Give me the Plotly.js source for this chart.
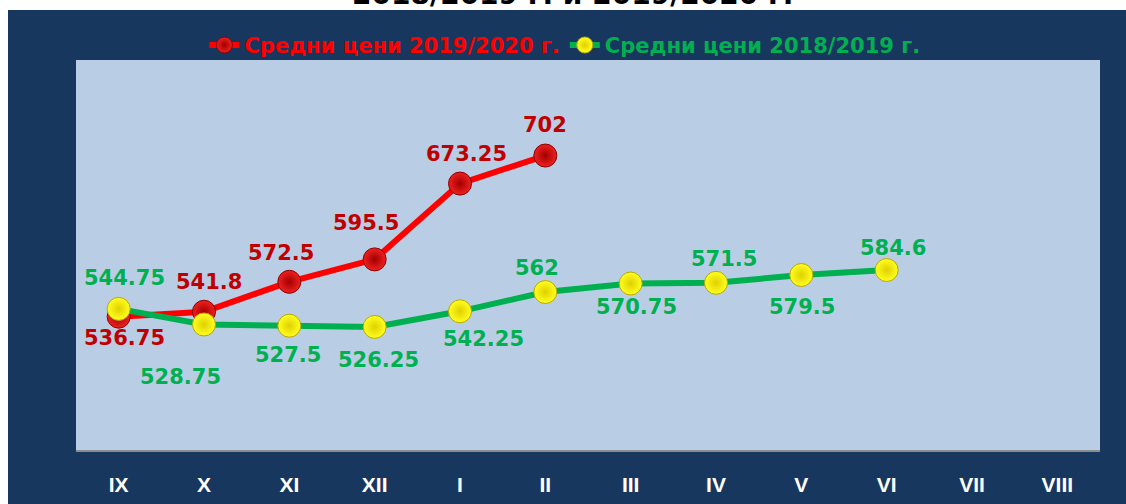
<!DOCTYPE html>
<html>
<head>
<meta charset="utf-8">
<script src="https://cdn.plot.ly/plotly-3.0.1.min.js"></script>
<style>html,body{margin:0;padding:0;background:#fff;}#chart{width:1126px;height:504px;}</style>
</head>
<body>
<div id="chart"></div>
<script>
const months = ["IX","X","XI","XII","I","II","III","IV","V","VI","VII","VIII"];
const prices2019_2020 = [536.75, 541.8, 572.5, 595.5, 673.25, 702];
const prices2018_2019 = [544.75, 528.75, 527.5, 526.25, 542.25, 562, 570.75, 571.5, 579.5, 584.6];
const name2019_2020 = "Средни цени 2019/2020 г.";
const name2018_2019 = "Средни цени 2018/2019 г.";
const titleText = "2018/2019 г. и 2019/2020 г.";

// label offsets (screen pixels: dx, dy with dy>0 = below the point)
const redShift = [[6,21],[5,-30],[-8,-29],[-9,-36],[6,-30],[0,-31]];
const greenShift = [[6,-31],[-24,53],[-1,29],[4,33],[23,28],[-8,-24],[6,23],[8,-24],[1,32],[6,-22]];

const NAVY = "#17375E";
const labelFont = {family: "DejaVu Sans, Verdana, sans-serif", size: 21, weight: "bold"};

const annotations = [];
prices2019_2020.forEach((v, i) => {
  annotations.push({x: months[i], y: v, xref: "x", yref: "y", text: "<b>" + v + "</b>", showarrow: false,
    xshift: redShift[i][0], yshift: -redShift[i][1], font: Object.assign({}, labelFont, {color: "#C00000"})});
});
prices2018_2019.forEach((v, i) => {
  annotations.push({x: months[i], y: v, xref: "x", yref: "y", text: "<b>" + v + "</b>", showarrow: false,
    xshift: greenShift[i][0], yshift: -greenShift[i][1], font: Object.assign({}, labelFont, {color: "#00B050"})});
});
annotations.push({x: 0.485, y: 1.12, xref: "paper", yref: "paper", xanchor: "center", yanchor: "bottom",
  text: "<b>" + titleText + "</b>", showarrow: false,
  font: {family: "DejaVu Sans, Verdana, sans-serif", size: 28, color: "#000000"}});

const traces = [
  {
    x: months.slice(0, prices2019_2020.length), y: prices2019_2020, name: name2019_2020,
    type: "scatter", mode: "lines+markers",
    line: {color: "#FF0000", width: 6},
    marker: {size: 23, color: "#F22020", gradient: {type: "radial", color: "#A00000"},
      line: {color: "#8A0000", width: 1}}
  },
  {
    x: months.slice(0, prices2018_2019.length), y: prices2018_2019, name: name2018_2019,
    type: "scatter", mode: "lines+markers",
    line: {color: "#00B050", width: 6},
    marker: {size: 23, color: "#FFFF20", gradient: {type: "radial", color: "#E0D000"},
      line: {color: "#B8A800", width: 1}}
  }
];

const layout = {
  width: 1126, height: 504,
  margin: {l: 76, r: 26, t: 60, b: 54},
  paper_bgcolor: NAVY,
  plot_bgcolor: "#B9CDE5",
  showlegend: true,
  legend: {orientation: "h", x: 0.4775, xanchor: "center", y: 0.985, yanchor: "bottom",
    font: {family: "DejaVu Sans, Verdana, sans-serif", size: 21, weight: "bold", color: "#FF0000"},
    bgcolor: "rgba(0,0,0,0)", itemwidth: 30},
  xaxis: {
    type: "category", categoryorder: "array", categoryarray: months,
    range: [-0.5, 11.5], showgrid: false, zeroline: false,
    showline: true, linecolor: "#8C8C8C", linewidth: 2,
    ticks: "", ticklabelstandoff: 15,
    tickfont: {family: "Liberation Sans Narrow, Liberation Sans, Arial Narrow, sans-serif", size: 21, weight: "bold", color: "#FFFFFF"}
  },
  yaxis: {range: [400, 800], showgrid: false, zeroline: false, showticklabels: false, ticks: "", showline: false},
  shapes: [
    {type: "rect", xref: "paper", yref: "paper", x0: -0.1, x1: 1.1, y0: 1 + 50/390, y1: 1 + 61/390,
      fillcolor: "#FFFFFF", line: {width: 0}, layer: "above"},
    {type: "rect", xref: "paper", yref: "paper", x0: -77/1024, x1: -68/1024, y0: -0.2, y1: 1.2,
      fillcolor: "#FFFFFF", line: {width: 0}, layer: "above"}
  ],
  annotations: annotations
};

Plotly.newPlot("chart", traces, layout, {displayModeBar: false, staticPlot: true}).then(() => {
  const texts = document.querySelectorAll(".legendtext");
  if (texts[1]) texts[1].style.fill = "#00B050";
});
</script>
</body>
</html>
